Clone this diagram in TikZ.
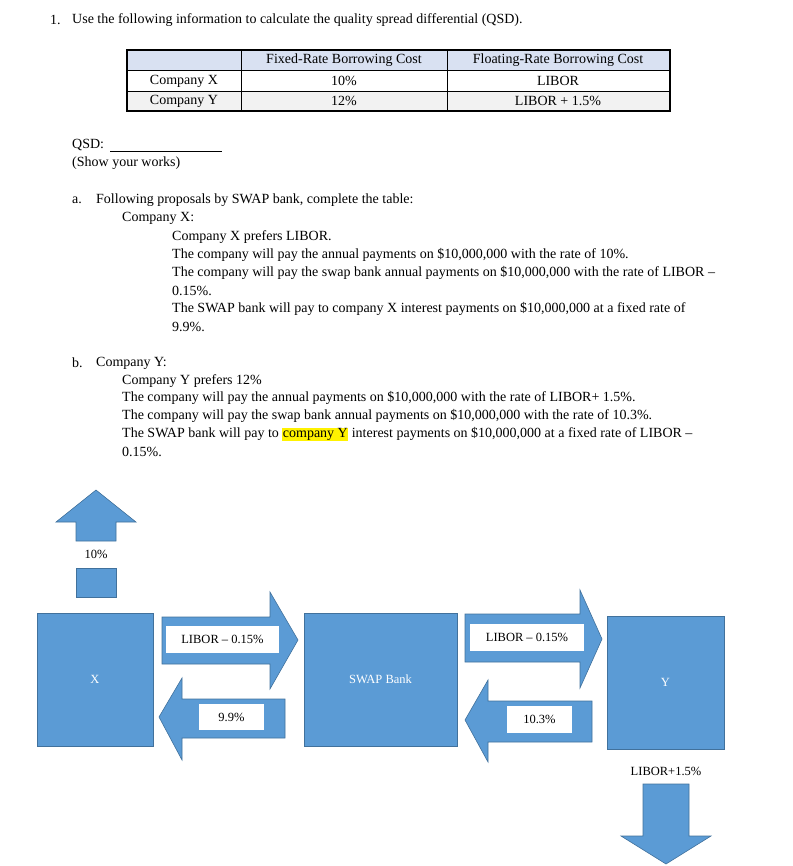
\documentclass[tikz,border=0pt]{standalone}
\usepackage{fontspec}
\setmainfont{Liberation Serif}
\definecolor{bfill}{HTML}{5B9BD5}
\definecolor{bdraw}{HTML}{41719C}
\definecolor{hdr}{HTML}{D9E1F2}
\definecolor{rowg}{HTML}{F2F2F2}
\begin{document}
\begin{tikzpicture}[x=1pt,y=-1pt,
  txt/.style={anchor=west,inner sep=0pt,font=\fontsize{14}{16}\selectfont},
  ttxt/.style={inner sep=0pt,font=\fontsize{14}{16}\selectfont},
  shp/.style={fill=bfill,draw=bdraw,line width=0.6pt},
  lbl/.style={fill=white,inner sep=0pt,font=\fontsize{12.5}{14}\selectfont},
  wlbl/.style={text=white,font=\fontsize{12.5}{14}\selectfont}]
\useasboundingbox (0,0) rectangle (792,866);
% title
\node[txt] (n1) at (50,20) {1.};
\node[txt] (t1) at (72,20) {Use the following information to calculate the quality spread differential (QSD).};
% table
\fill[hdr] (127,50) rectangle (670,70);
\fill[rowg] (127,91) rectangle (670,111);
\draw[line width=0.6pt] (127,50) rectangle (670,111) (127,70)--(670,70) (127,91)--(670,91)
  (241,50)--(241,111) (447,50)--(447,111);
\draw[line width=1.5pt] (127,50) rectangle (670,111);
\node[ttxt] (h1) at (344,60) {Fixed-Rate Borrowing Cost};
\node[ttxt] (h2) at (558,60) {Floating-Rate Borrowing Cost};
\node[ttxt] (r1) at (184,81) {Company X};
\node[ttxt] (r2) at (184,101) {Company Y};
\node[ttxt] (c11) at (344,81) {10\%};
\node[ttxt] (c12) at (558,81) {LIBOR};
\node[ttxt] (c21) at (344,101) {12\%};
\node[ttxt] (c22) at (558,101) {LIBOR + 1.5\%};
% QSD
\node[txt] (q) at (72,145) {QSD:};
\draw[line width=0.5pt] (110,151)--(222,151);
\node[txt] (sw) at (72,163) {(Show your works)};
% a
\node[txt] (a) at (72,200) {a.};
\node[txt] (at) at (96,200) {Following proposals by SWAP bank, complete the table:};
\node[txt] (ax) at (122,218) {Company X:};
\node[txt] (a1) at (172,237) {Company X prefers LIBOR.};
\node[txt] (a2) at (172,255) {The company will pay the annual payments on \$10,000,000 with the rate of 10\%.};
\node[txt] (a3) at (172,273) {The company will pay the swap bank annual payments on \$10,000,000 with the rate of LIBOR –};
\node[txt] (a4) at (172,291) {0.15\%.};
\node[txt] (a5) at (172,309) {The SWAP bank will pay to company X interest payments on \$10,000,000 at a fixed rate of};
\node[txt] (a6) at (172,327) {9.9\%.};
% b
\node[txt] (b) at (72,363) {b.};
\node[txt] (bt) at (96,363) {Company Y:};
\node[txt] (b1) at (122,381) {Company Y prefers 12\%};
\node[txt] (b2) at (122,398) {The company will pay the annual payments on \$10,000,000 with the rate of LIBOR+ 1.5\%.};
\node[txt] (b3) at (122,416) {The company will pay the swap bank annual payments on \$10,000,000 with the rate of 10.3\%.};
\node[txt] (b4) at (122,434) {The SWAP bank will pay to {\setlength{\fboxsep}{0.5pt}\colorbox{yellow}{company Y}} interest payments on \$10,000,000 at a fixed rate of LIBOR –};
\node[txt] (b5) at (122,452) {0.15\%.};
% up arrow
\draw[shp] (96,490)--(136,522)--(116,522)--(116,541)--(76,541)--(76,522)--(56,522)--cycle;
\draw[shp] (76,568) rectangle (116,597);
\node[font=\fontsize{12.5}{14}\selectfont] (p10) at (96,554) {10\%};
% boxes
\node[shp,minimum width=116pt,minimum height=133pt,wlbl] (X) at (95,679.5) {X};
\node[shp,minimum width=153pt,minimum height=133pt,wlbl] (S) at (380.5,679.5) {SWAP Bank};
\node[shp,minimum width=117pt,minimum height=133pt,wlbl] (Y) at (665.5,682.5) {Y};
% arrow X->S
\draw[shp] (162,617)--(270,617)--(270,592)--(298,640)--(270,689)--(270,664)--(162,664)--cycle;
\node[lbl,minimum width=113pt,minimum height=27pt] (l1) at (222.5,639.5) {LIBOR – 0.15\%};
% arrow S->X
\draw[shp] (159,717)--(182,678)--(182,699)--(285,699)--(285,738)--(182,738)--(182,760)--cycle;
\node[lbl,minimum width=65pt,minimum height=26pt] (l2) at (231.5,717) {9.9\%};
% arrow S->Y
\draw[shp] (465,614)--(580,614)--(580,590)--(602,639)--(580,688)--(580,662)--(465,662)--cycle;
\node[lbl,minimum width=114pt,minimum height=27pt] (l3) at (527,637.5) {LIBOR – 0.15\%};
% arrow Y->S
\draw[shp] (465,720)--(488,680)--(488,701)--(592,701)--(592,742)--(488,742)--(488,762)--cycle;
\node[lbl,minimum width=65pt,minimum height=27pt] (l4) at (539.5,719.5) {10.3\%};
% Y output
\node[font=\fontsize{12.5}{14}\selectfont] (ly) at (666,771) {LIBOR+1.5\%};
\draw[shp] (643,784)--(689,784)--(689,836)--(711,836)--(666,864)--(621,836)--(643,836)--cycle;
\end{tikzpicture}
\end{document}
